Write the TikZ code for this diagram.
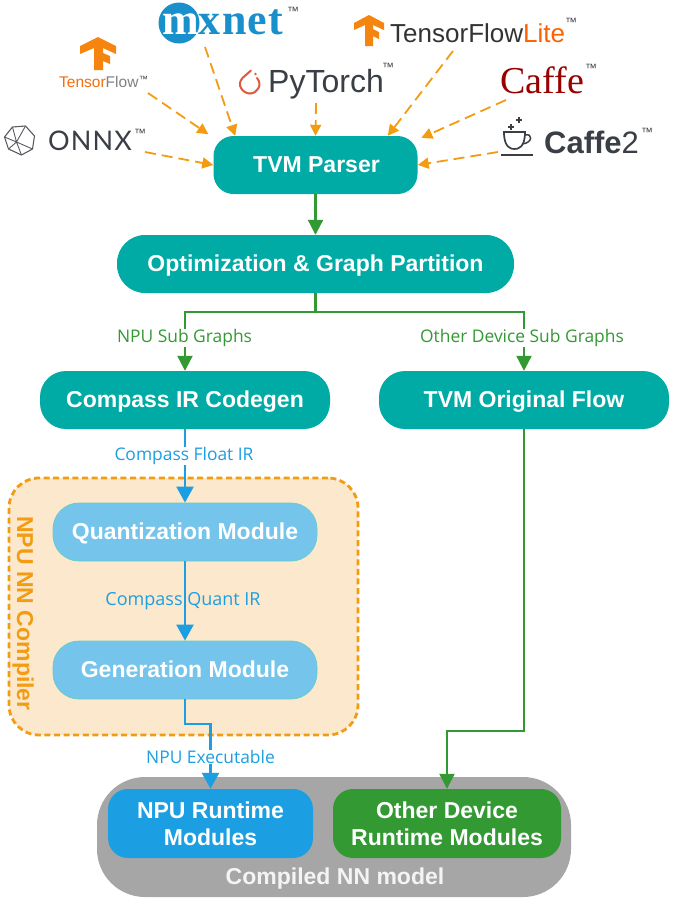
\documentclass[tikz,border=0pt]{standalone}
\usepackage{fontspec}
\setmainfont{Liberation Sans}
\newfontfamily\serifl{Liberation Serif}
\newfontfamily\latof{Lato}
\newfontfamily\opens{Open Sans}
\usetikzlibrary{arrows.meta,calc}
\definecolor{teal1}{HTML}{00ABA5}
\definecolor{lblue}{HTML}{75C4EC}
\definecolor{bblue}{HTML}{1C9FE2}
\definecolor{ggreen}{HTML}{339933}
\definecolor{orng}{HTML}{F39C12}
\definecolor{peach}{HTML}{FCE8CC}
\definecolor{ggray}{HTML}{A6A6A6}
\definecolor{dtext}{HTML}{3A3F45}
\definecolor{ptred}{HTML}{DE5A3C}
\newcommand{\fs}[1]{\fontsize{#1}{#1}\selectfont}
\tikzset{
  x=1pt,y=-1pt,
  box/.style={rounded corners=#1,inner sep=0pt,align=center,text=white,font=\fs{23}\bfseries},
  oneline/.style={text height=16.5pt,text depth=2.3pt},
  tealbox/.style={box=20,fill=teal1,oneline},
  modbox/.style={box=26,fill=lblue,draw=teal1!60,line width=0.8pt,minimum width=264,minimum height=58,oneline},
  glink/.style={draw=ggreen,line width=2.2pt},
  blink/.style={draw=bblue,line width=2.4pt},
  garrow/.style={glink,-{Triangle[length=15pt,width=15pt]}},
  barrow/.style={blink,-{Triangle[length=16pt,width=17pt]}},
  oarrow/.style={draw=orng,line width=1.8pt,dash pattern=on 11pt off 6pt,-{Triangle[length=11pt,width=11pt]}},
  glabel/.style={fill=white,inner xsep=1.5pt,inner ysep=0pt,text=ggreen,font=\opens\fs{17.4}},
  blabel/.style={inner xsep=1.5pt,inner ysep=0pt,text=bblue,font=\opens\fs{17.4}},
  logo/.style={inner sep=0pt,anchor=base west},
  tm/.style={inner sep=0pt,anchor=base west,font=\fs{12},text=dtext},
}
\begin{document}
\begin{tikzpicture}
\useasboundingbox (0,0) rectangle (673,903);
\fill[white] (0,0) rectangle (673,903);

% containers
\node[draw=none,fill=ggray,rounded corners=48,minimum width=474,minimum height=120,inner sep=0pt] (model) at (334,837) {};
\node[fill=peach,draw=orng,line width=2.8pt,dash pattern=on 6pt off 3.6pt,rounded corners=30,minimum width=349,minimum height=257,inner sep=0pt] (compiler) at (183.5,606.5) {};
\node[rotate=-90,text=orng,font=\fs{23}\bfseries,inner sep=0pt] (compilerlabel) at (23,613.5) {NPU NN Compiler};
\node[inner sep=0pt,text=white!88!ggray,font=\fs{23}\bfseries] (modellabel) at (335,879) {Compiled NN model};

% main boxes
\node[tealbox,minimum width=204,minimum height=58] (parser) at (315.5,165) {\hspace{2pt}TVM Parser};
\node[box=28,oneline,fill=teal1,minimum width=397,minimum height=58] (opt) at (315.5,264) {Optimization \& Graph Partition};
\node[box=26,oneline,fill=teal1,minimum width=290,minimum height=58] (codegen) at (185,400) {Compass IR Codegen};
\node[box=26,oneline,fill=teal1,minimum width=290,minimum height=58] (orig) at (524,400) {TVM Original Flow};
\node[modbox] (quant) at (185,532) {Quantization Module};
\node[modbox] (gen) at (185,670) {Generation Module};
\node[box=20,fill=bblue,minimum width=205,minimum height=69] (npurt) at (210.5,823.5) {NPU Runtime\\[4pt]Modules};
\node[box=20,fill=ggreen,minimum width=228,minimum height=69] (otherrt) at (447,823.5) {Other Device\\[4pt]Runtime Modules};

% logos
% ONNX
\begin{scope}[shift={(19.5,140)}]
\draw[draw=dtext!85,line width=1.1pt,line join=round,fill=white]
  (-15,-3) -- (-7,-13) -- (6,-14) -- (15,-4) -- (13,9) -- (2,15) -- (-11,9) -- cycle;
\draw[draw=dtext!85,line width=0.9pt] (-7,-13) -- (-3,2) -- (2,15) (6,-14) -- (-3,2) -- (-15,-3) (-3,2) -- (13,9) (-3,2) -- (-11,9);
\end{scope}
\node[logo,text=dtext,font=\latof\fs{27}] (onnx) at (48,150) {\addfontfeatures{LetterSpace=4}ONNX};
\node[tm] (onnxtm) at (134,137) {™};
% TensorFlow
\begin{scope}[shift={(98,37)}]
\fill[orng!85!red] (-18,9) -- (0,0) -- (18,9) -- (18,17) -- (5,11) -- (5,16) -- (12,19) -- (12,27) -- (5,24) -- (5,33) -- (-4,33) -- (-4,11) -- (-18,17) -- cycle;
\end{scope}
\node[logo,font=\fs{15.5}] (tf) at (59,87) {\textcolor{orng!70!red}{Tensor}\textcolor{gray}{Flow}};
\node[tm,font=\fs{9}] (tftm) at (139,82) {™};
% mxnet
\node[circle,fill=bblue!90!black,minimum size=41,inner sep=0pt] (mxcircle) at (179,23) {};
\node[logo,text=bblue!90!black,font=\serifl\fs{44}\bfseries] (mxnet) at (162,34) {\addfontfeatures{LetterSpace=3}\textcolor{white}{m}xnet};
\node[tm] (mxtm) at (287,15) {™};
% PyTorch
\draw[draw=ptred,line width=2pt,line cap=round] (251,70.5) -- (242.5,78) .. controls (236,85) and (243,93.5) .. (250,93.5) .. controls (257,93.5) and (263,85) .. (257,78);
\fill[ptred] (255.5,74) circle[radius=1.4];
\node[logo,text=dtext,font=\fs{32}] (pytorch) at (268,92) {PyTorch};
\node[tm] (pytm) at (382,71) {™};
% TF Lite
\begin{scope}[shift={(369,15)}]
\fill[orng!85!red] (-15,8) -- (0,0) -- (15,8) -- (15,15) -- (4,10) -- (4,14) -- (10,17) -- (10,24) -- (4,21) -- (4,31) -- (-4,31) -- (-4,10) -- (-15,15) -- cycle;
\end{scope}
\node[logo,text=black!80,font=\fs{26}] (tflite) at (390,42) {TensorFlow\textcolor{orange!75!red}{Lite}};
\node[tm] (tflitetm) at (565,26) {™};
% Caffe
\node[logo,text=red!60!black,font=\serifl\fs{38}] (caffe) at (500,93) {Caffe};
\node[tm] (caffetm) at (585,72) {™};
% Caffe2
\draw[dtext,line width=1.7pt,fill=white] (504,132) -- (525,132) .. controls (525,148) and (518,149) .. (514.5,149) .. controls (511,149) and (504,148) .. (504,132) -- cycle;
\draw[dtext,line width=1.5pt] (525,135) .. controls (533,133) and (533,143) .. (522,144);
\draw[dtext,line width=2pt] (501,154.5) -- (533,154.5);
\draw[dtext,line width=1.3pt] (511,124) -- (511,130) (508,127) -- (514,127) (519,117) -- (519,123) (516,120) -- (522,120);
\node[logo,text=dtext,font=\fs{31}] (caffetwo) at (544,153) {{\bfseries Caffe}2};
\node[tm] (caffetwotm) at (641,136) {™};

% free ends of orange links
\coordinate (onnxout) at (145,152);
\coordinate (tfout) at (148,93);
\coordinate (mxout) at (205,47);
\coordinate (pyout) at (316,103);
\coordinate (tfliteout) at (453,51);
\coordinate (caffeout) at (506,100);
\coordinate (caffetwoout) at (498,152);
\draw[oarrow] (onnxout) -- (parser.west);
\draw[oarrow,shorten >=6pt] (tfout) -- (parser.165);
\draw[oarrow] (mxout) -- (parser.160);
\draw[oarrow] (pyout) -- (parser.north);
\draw[oarrow] (tfliteout) -- (parser.22);
\draw[oarrow,shorten >=4pt] (caffeout) -- (parser.14);
\draw[oarrow] (caffetwoout) -- (parser.east);

% green links
\draw[garrow] (parser.south) -- (opt.north);
\coordinate (split) at (315.5,312);
\draw[garrow] (opt.south) -- (split) -- (split -| codegen) -- (codegen.north);
\draw[garrow] (split) -- (split -| orig) -- (orig.north);
\node[glabel] (npusub) at (184.5,338) {NPU Sub Graphs};
\node[glabel] (othersub) at (522,338) {Other Device Sub Graphs};
\coordinate (origjog) at (524,731);
\draw[garrow] (orig.south) -- (origjog) -- (origjog -| otherrt) -- (otherrt.north);

% blue links
\draw[barrow] (codegen.south) -- (quant.north);
\node[blabel,fill=white] (floatlabel) at (184,456) {Compass Float IR};
\draw[barrow] (quant.south) -- (gen.north);
\node[blabel,font=\opens\fs{18}] (quantlabel) at (183,601) {Compass Quant IR};
\coordinate (genjog) at (185,724);
\draw[barrow] (gen.south) -- (genjog) -- (genjog -| npurt) -- (npurt.north);
\node[blabel,fill=white] (exelabel) at (210.5,757) {NPU Executable};
\end{tikzpicture}
\end{document}
